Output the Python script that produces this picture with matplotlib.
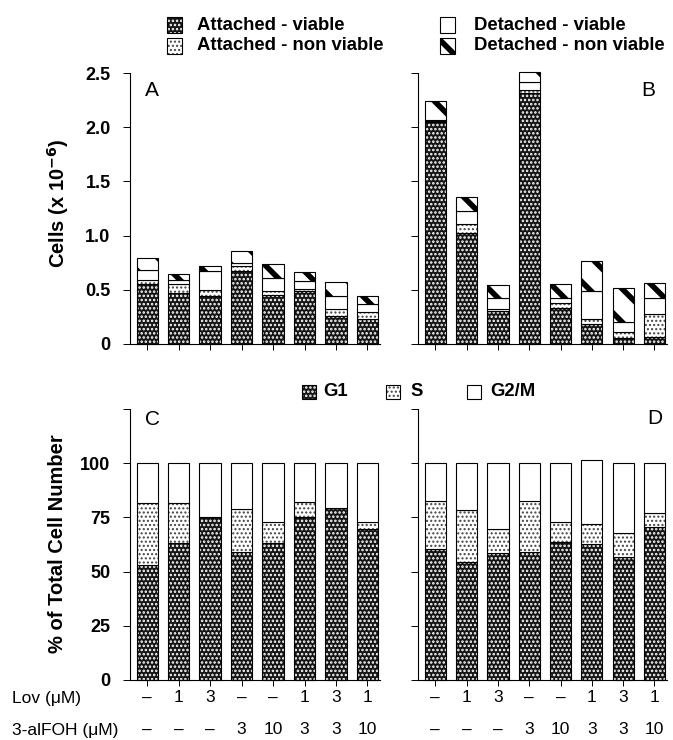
import matplotlib
matplotlib.use("Agg")
import matplotlib.pyplot as plt
import numpy as np
from matplotlib.patches import Rectangle
from matplotlib.transforms import blended_transform_factory

plt.rcParams['font.family'] = ['Liberation Sans', 'DejaVu Sans']

# treatment labels under each bar
lov = ['–', '1', '3', '–', '–', '1', '3', '1']
alfoh = ['–', '–', '–', '3', '10', '3', '3', '10']

# panel A: cells (x 10^-6)
a_att_via = [0.55, 0.47, 0.44, 0.67, 0.455, 0.49, 0.26, 0.23]
a_att_non = [0.045, 0.08, 0.055, 0.045, 0.03, 0.02, 0.065, 0.065]
a_det_via = [0.09, 0.045, 0.175, 0.03, 0.12, 0.07, 0.115, 0.07]
a_det_non = [0.11, 0.055, 0.05, 0.115, 0.135, 0.085, 0.13, 0.075]

# panel B
b_att_via = [2.05, 1.02, 0.30, 2.32, 0.33, 0.18, 0.055, 0.06]
b_att_non = [0.01, 0.09, 0.02, 0.02, 0.045, 0.055, 0.06, 0.215]
b_det_via = [0.01, 0.12, 0.10, 0.08, 0.05, 0.25, 0.09, 0.145]
b_det_non = [0.17, 0.125, 0.125, 0.09, 0.13, 0.28, 0.31, 0.147]

# panel C: % of total cell number
c_g1 = [53, 63.4, 75, 59.2, 63.4, 75.4, 79.2, 69.5]
c_s = [28.5, 18.1, 0, 19.7, 9.4, 6.6, 0, 3.4]
c_g2m = [18.5, 18.5, 25, 21.1, 27.2, 18, 20.8, 27.1]

# panel D
d_g1 = [60.3, 54.6, 58.5, 59.2, 63.7, 62.6, 56.8, 70.8]
d_s = [22.3, 23.7, 11, 23.4, 9.2, 9.2, 11.2, 6.1]
d_g2m = [17.4, 21.7, 30.5, 17.4, 27.1, 29.6, 32, 23.1]

W, H = 673, 740
dark = dict(face='#151515', hatch='....', hc='white', hlw=1.2)
dots = dict(face='white', hatch='....', hc='#444444', hlw=1.0)
blank = dict(face='white', hatch=None, hc='black', hlw=1.0)
diag = dict(face='white', hatch='\\', hc='black', hlw=4.0)

fig = plt.figure(figsize=(W / 100, H / 100), dpi=100)


def px_axes(x0, y_top, x1, y_bot):
    return fig.add_axes([x0 / W, 1 - y_bot / H, (x1 - x0) / W, (y_bot - y_top) / H])


xpos = np.arange(8)
bw = 0.68


def stack(ax, layers):
    bottom = np.zeros(len(xpos))
    for vals, st in layers:
        vals = np.asarray(vals, dtype=float)
        with plt.rc_context({'hatch.linewidth': st['hlw'], 'hatch.color': st['hc']}):
            bars = ax.bar(xpos, vals, bw, bottom=bottom, color=st['face'],
                          hatch=st['hatch'], edgecolor=st['hc'], linewidth=0,
                          clip_on=False)
        for b in bars:
            try:
                b.set_hatch_linewidth(st['hlw'])
            except AttributeError:
                pass
        ax.bar(xpos, vals, bw, bottom=bottom, fill=False, edgecolor='black',
               linewidth=0.8, clip_on=False)
        bottom += vals


def style(ax, yt, ylabels, ylim):
    for s in ['top', 'right']:
        ax.spines[s].set_visible(False)
    for s in ['left', 'bottom']:
        ax.spines[s].set_linewidth(0.8)
    ax.set_xlim(-0.55, 7.4)
    ax.set_ylim(*ylim)
    ax.set_xticks(xpos)
    ax.set_xticklabels([])
    ax.set_yticks(yt)
    if ylabels is None:
        ax.set_yticklabels([])
    else:
        ax.set_yticklabels(ylabels, fontsize=13, fontweight='bold')
    ax.tick_params(axis='x', length=4, width=0.7, direction='out')
    ax.tick_params(axis='y', length=5, width=0.7, direction='out', pad=9)


axA = px_axes(130, 73, 380, 344)
axB = px_axes(418, 73, 667, 344)
axC = px_axes(130, 409, 380, 680)
axD = px_axes(418, 409, 667, 680)

stack(axA, [(a_att_via, dark), (a_att_non, dots), (a_det_via, blank), (a_det_non, diag)])
stack(axB, [(b_att_via, dark), (b_att_non, dots), (b_det_via, blank), (b_det_non, diag)])
stack(axC, [(c_g1, dark), (c_s, dots), (c_g2m, blank)])
stack(axD, [(d_g1, dark), (d_s, dots), (d_g2m, blank)])

top_t = [0, 0.5, 1.0, 1.5, 2.0, 2.5]
style(axA, top_t, ['0', '0.5', '1.0', '1.5', '2.0', '2.5'], (0, 2.5))
style(axB, top_t, None, (0, 2.5))
bot_t = [0, 25, 50, 75, 100, 125]
style(axC, bot_t, ['0', '25', '50', '75', '100', ''], (0, 125))
style(axD, bot_t, None, (0, 125))

for ax, letter, xf, yf in [(axA, 'A', 0.088, 0.937), (axB, 'B', 0.925, 0.937),
                           (axC, 'C', 0.088, 0.96), (axD, 'D', 0.95, 0.965)]:
    ax.text(xf, yf, letter, transform=ax.transAxes, fontsize=15,
            ha='center', va='center')

fig.text(58 / W, 1 - 203 / H, r'Cells (x 10$^{\mathbf{-6}}$)', rotation=90,
         fontsize=14.5, fontweight='bold', ha='center', va='center')
fig.text(58 / W, 1 - 544 / H, '% of Total Cell Number', rotation=90,
         fontsize=14.5, fontweight='bold', ha='center', va='center')


def legend_item(xb, yc, st, label, xt, size=15):
    rect = Rectangle((xb / W, 1 - (yc + size / 2) / H), size / W, size / H,
                     transform=fig.transFigure, facecolor=st['face'],
                     hatch=st['hatch'], edgecolor=st['hc'], linewidth=0)
    try:
        rect.set_hatch_linewidth(st['hlw'])
    except AttributeError:
        pass
    fig.add_artist(rect)
    fig.add_artist(Rectangle((xb / W, 1 - (yc + size / 2) / H), size / W, size / H,
                             transform=fig.transFigure, fill=False,
                             edgecolor='black', linewidth=0.8))
    fig.text(xt / W, 1 - yc / H, label, fontsize=13.3, fontweight='bold',
             ha='left', va='center')


legend_item(167, 25, dark, 'Attached - viable', 197)
legend_item(167, 46, dots, 'Attached - non viable', 197)
legend_item(440, 25, blank, 'Detached - viable', 474)
legend_item(440, 46, diag, 'Detached - non viable', 474)

legend_item(302, 392, dark, 'G1', 323, size=14)
legend_item(386, 392, dots, 'S', 410, size=14)
legend_item(467, 392, blank, 'G2/M', 490, size=14)

# treatment rows
fig.text(12 / W, 1 - 698 / H, 'Lov (\u03bcM)', fontsize=12.5, ha='left', va='center')
fig.text(12 / W, 1 - 730 / H, '3-alFOH (\u03bcM)', fontsize=12.5, ha='left', va='center')
for ax in (axC, axD):
    tr = blended_transform_factory(ax.transData, fig.transFigure)
    for i in range(len(xpos)):
        ax.text(xpos[i], 1 - 698 / H, lov[i], transform=tr, fontsize=12.5,
                ha='center', va='center', clip_on=False)
        ax.text(xpos[i], 1 - 730 / H, alfoh[i], transform=tr, fontsize=12.5,
                ha='center', va='center', clip_on=False)

fig.savefig('out.png', dpi=100)
